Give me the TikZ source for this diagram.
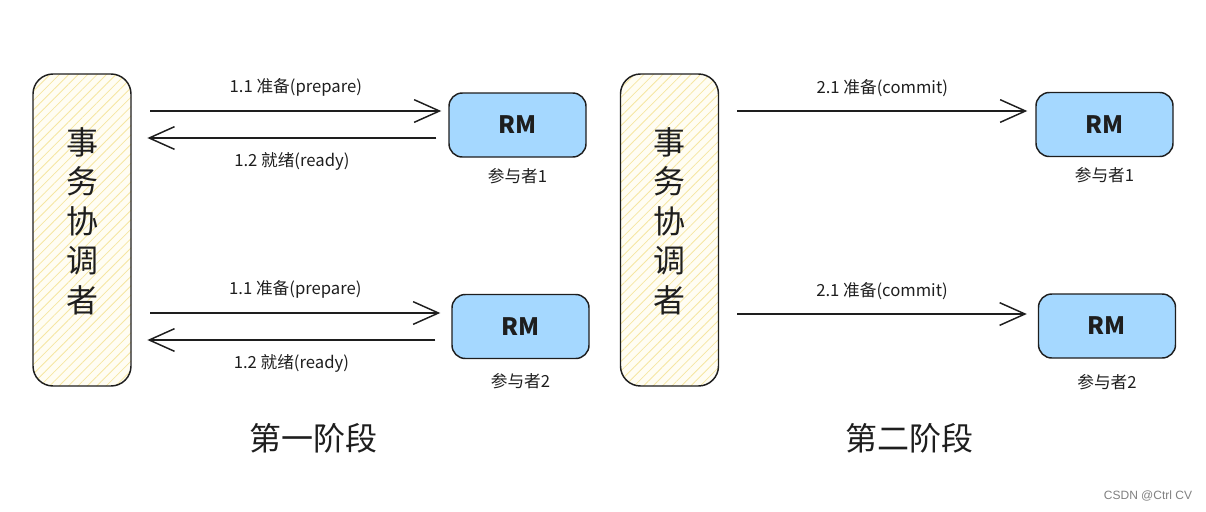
\documentclass[tikz,border=0pt]{standalone}
\usepackage{fontspec}
\setmainfont{Noto Sans CJK SC}
\newfontfamily\marksans{Liberation Sans}
\usetikzlibrary{arrows.meta,positioning,calc,patterns.meta}
\definecolor{ink}{HTML}{1E1E1E}
\definecolor{rmblue}{HTML}{A5D8FF}
\definecolor{hatch}{HTML}{F6E6A2}
\definecolor{tcback}{HTML}{FFFDF3}

\begin{document}
\begin{tikzpicture}[x=0.75pt,y=-0.75pt,>={Straight Barb[length=19pt,width=17pt]}]
\tikzstyle{coord}=[draw=ink,line width=1.1pt,rounded corners=15pt,minimum width=73.5pt,minimum height=234pt,preaction={fill=tcback},pattern={Lines[angle=45,distance=5pt,line width=0.6pt]},pattern color=hatch,align=center,text depth=15pt,font=\fontsize{24}{29.6}\selectfont,text=ink]
\tikzstyle{rm}=[draw=ink,line width=1.1pt,fill=rmblue,rounded corners=10pt,minimum width=102.75pt,minimum height=48pt,font=\fontsize{18}{20}\selectfont\bfseries,text=ink]
\tikzstyle{who}=[font=\fontsize{12.5}{15}\selectfont,text=ink]
\tikzstyle{msg}=[->,draw=ink,line width=1.1pt]
\tikzstyle{phase}=[font=\fontsize{24}{28}\selectfont,text=ink]

\useasboundingbox (0,0) rectangle (1206,511);

% first phase
\node[coord]  (TC1) at (82,230)    {事\\务\\协\\调\\者};
\node[rm]     (RM1) at (517.5,125) {RM};
\node[rm]     (RM2) at (520.5,326.5) {RM};
\node[who]    (P1) [below of=RM1,node distance=38pt] {参与者1};
\node[who]    (P2) [below of=RM2,node distance=41pt] {参与者2};
\node[phase]  (S1) at (313,438)    {第一阶段};

% second phase
\node[coord]  (TC2) at (669.5,230)  {事\\务\\协\\调\\者};
\node[rm]     (RM3) at (1104.5,124.5) {RM};
\node[rm]     (RM4) at (1107,326)     {RM};
\node[who]    (P3) [below of=RM3,node distance=38pt] {参与者1};
\node[who]    (P4) [below of=RM4,node distance=42pt] {参与者2};
\node[phase]  (S2) at (909,438)     {第二阶段};

\node[font=\marksans\fontsize{9}{11}\selectfont,text=gray] (mark) at (1148,496) {CSDN @Ctrl CV};

\path
($(TC1.east |- RM1.center)+(19,-14)$) edge[msg] node[who,above=7pt] {1.1 准备(prepare)} ($(RM1.west)+(-7,-14)$)
($(RM1.west)+(-12,13)$) edge[msg] node[who,below=7pt] {1.2 就绪(ready)} ($(TC1.east |- RM1.center)+(16,13)$)
($(TC1.east |- RM2.center)+(19,-13.5)$) edge[msg] node[who,above=7pt] {1.1 准备(prepare)} ($(RM2.west)+(-11,-13.5)$)
($(RM2.west)+(-16,13.5)$) edge[msg] node[who,below=7pt] {1.2 就绪(ready)} ($(TC1.east |- RM2.center)+(16,13.5)$)
($(TC2.east |- RM3.center)+(18,-13.5)$) edge[msg] node[who,above=7pt] {2.1 准备(commit)} ($(RM3.west)+(-8,-13.5)$)
($(TC2.east |- RM4.center)+(18,-12)$) edge[msg] node[who,above=7pt] {2.1 准备(commit)} ($(RM4.west)+(-11,-12)$)
;
\end{tikzpicture}
\end{document}
